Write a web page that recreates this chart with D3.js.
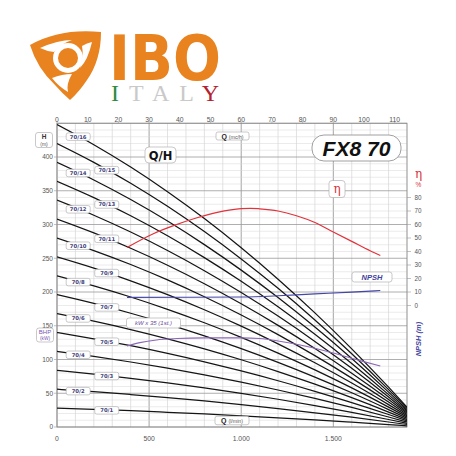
<!DOCTYPE html>
<html><head><meta charset="utf-8">
<script src="https://cdn.jsdelivr.net/npm/d3@7"></script>
<style>body{margin:0;background:#fff}svg{display:block}</style>
</head><body>
<svg id="c" width="456" height="456"></svg>
<script>
// ---------- data ----------
const flowLmin = [0, 200, 400, 600, 800, 1000, 1200, 1400, 1600, 1800, 1900];
const modelNames = ["70/1","70/2","70/3","70/4","70/5","70/6","70/7","70/8","70/9","70/10","70/11","70/12","70/13","70/14","70/15","70/16"];
const h701  = [28, 26.1, 24.1, 21.8, 19.3, 16.6, 13.7, 10.6, 7.2, 3.7, 1.8];
const h702  = [56, 52.3, 48.1, 43.6, 38.6, 33.2, 27.4, 21.1, 14.5, 7.4, 3.7];
const h703  = [84, 78.4, 72.2, 65.4, 57.9, 49.8, 41.1, 31.7, 21.7, 11.1, 5.5];
const h704  = [112, 104.6, 96.3, 87.2, 77.2, 66.4, 54.8, 42.3, 29.0, 14.8, 7.4];
const h705  = [140, 130.7, 120.4, 109.0, 96.5, 83.0, 68.5, 52.9, 36.2, 18.5, 9.2];
const h706  = [168, 156.8, 144.4, 130.7, 115.8, 99.6, 82.1, 63.4, 43.4, 22.1, 11.0];
const h707  = [196, 183.0, 168.5, 152.5, 135.1, 116.2, 95.8, 74.0, 50.7, 25.8, 12.9];
const h708  = [224, 209.1, 192.6, 174.3, 154.4, 132.8, 109.5, 84.6, 57.9, 29.5, 14.7];
const h709  = [252, 235.3, 216.6, 196.1, 173.7, 149.4, 123.2, 95.1, 65.2, 33.2, 16.6];
const h710  = [280, 261.4, 240.7, 217.9, 193.0, 166.0, 136.9, 105.7, 72.4, 36.9, 18.4];
const h711  = [308, 287.5, 264.8, 239.7, 212.3, 182.6, 150.6, 116.3, 79.6, 40.6, 20.2];
const h712  = [336, 313.7, 288.8, 261.5, 231.6, 199.2, 164.3, 126.8, 86.9, 44.3, 22.1];
const h713  = [364, 339.8, 312.9, 283.3, 250.9, 215.8, 178.0, 137.4, 94.1, 48.0, 23.9];
const h714  = [392, 366.0, 337.0, 305.1, 270.2, 232.4, 191.7, 148.0, 101.4, 51.7, 25.8];
const h715  = [420, 392.1, 361.1, 326.9, 289.5, 249.0, 205.4, 158.6, 108.6, 55.4, 27.6];
const h716  = [448, 418.2, 385.1, 348.6, 308.8, 265.6, 219.0, 169.1, 115.8, 59.0, 29.4];
const headSeries = [h701,h702,h703,h704,h705,h706,h707,h708,h709,h710,h711,h712,h713,h714,h715,h716];
const labelFlow = [270,115,270,115,270,115,270,115,270,115,270,115,270,115,270,115];

const effFlow = [380, 520, 640, 760, 870, 1000, 1050, 1100, 1200, 1300, 1400, 1500, 1600, 1700, 1755];
const effPct  = [43, 53, 59.5, 65, 69, 71.8, 72, 71.6, 70, 66.5, 61.5, 54.5, 47.5, 40.5, 37];

const npshFlow = [380, 700, 1000, 1200, 1400, 1600, 1755];
const npshM    = [6.0, 6.1, 6.3, 7.2, 8.6, 9.9, 11.1];

const bhpFlow  = [380, 450, 540, 650, 800, 1000, 1100, 1200, 1320, 1500, 1650, 1755];
const bhpX35   = [120, 125, 129, 131, 132, 132, 131, 127.5, 121.5, 109.6, 98, 90.4];

const hTicks = [0, 50, 100, 150, 200, 250, 300, 350, 400];
const topTicks = [0, 10, 20, 30, 40, 50, 60, 70, 80, 90, 100, 110];
const bottomTicks = [0, 500, 1000, 1500];
const bottomTickLabels = ["0", "500", "1.000", "1.500"];
const rightTicks = [0, 10, 20, 30, 40, 50, 60, 70, 80];

// ---------- scales ----------
const svg = d3.select("#c");
const x = d3.scaleLinear().domain([0, 1900]).range([57, 407]);
const xTop = d3.scaleLinear().domain([0, 114]).range([57, 407]);
const y = d3.scaleLinear().domain([0, 450]).range([427, 123.25]);
const yR = d3.scaleLinear().domain([0, 80]).range([y(180), y(340)]);

// ---------- logo ----------
const orange = "#e8831f";
const logo = svg.append("g");
logo.append("path").attr("fill", orange)
  .attr("d", "M30,45 Q60,28 101,32 Q101,60 87,80 Q79,92 70,100 Q62,93 55,85 Q37,68 30,45 Z");
logo.append("path").attr("fill", "#fff")
  .attr("d", "M40,48 Q58,40 72,40 Q60,44 54,52 Q46,51 40,48 Z");
logo.append("path").attr("fill", "#fff")
  .attr("d", "M92,42 Q88,60 80,68 Q84,56 82,46 Q87,43 92,42 Z");
logo.append("path").attr("fill", "#fff")
  .attr("d", "M52,78 Q62,74 72,74 Q66,84 68,92 Q58,86 52,78 Z");
logo.append("circle").attr("cx", 68).attr("cy", 58).attr("r", 15).attr("fill", "#fff");
logo.append("circle").attr("cx", 68).attr("cy", 58).attr("r", 10).attr("fill", orange);
logo.append("text").attr("x", 109).attr("y", 80)
  .attr("font-family", "DejaVu Sans").attr("font-weight", "bold").attr("font-size", 62)
  .attr("textLength", 112).attr("lengthAdjust", "spacingAndGlyphs")
  .attr("fill", orange).text("IBO");
const italy = logo.append("text").attr("x", 111).attr("y", 101)
  .attr("font-family", "Liberation Serif").attr("font-size", 24)
  .attr("textLength", 108).attr("lengthAdjust", "spacing");
[["I","#2e8b3e"],["T","#c9c9c9"],["A","#c9c9c9"],["L","#c9c9c9"],["Y","#b3202e"]].forEach(([c,col]) =>
  italy.append("tspan").attr("fill", col).text(c));

// ---------- grid ----------
const grid = svg.append("g");
d3.range(0, 1901, 100).forEach(q => {
  grid.append("line").attr("x1", x(q)).attr("x2", x(q)).attr("y1", y(450)).attr("y2", y(0))
    .attr("stroke", q % 500 === 0 ? "#9a9a9a" : "#cfcfcf").attr("stroke-width", q % 500 === 0 ? 0.9 : 0.6);
});
d3.range(0, 451, 10).forEach(h => {
  grid.append("line").attr("x1", x(0)).attr("x2", x(1900)).attr("y1", y(h)).attr("y2", y(h))
    .attr("stroke", h % 50 === 0 ? "#9a9a9a" : "#d6d6d6").attr("stroke-width", h % 50 === 0 ? 0.8 : 0.5);
});
svg.append("rect").attr("x", x(0)).attr("y", y(450)).attr("width", x(1900) - x(0)).attr("height", y(0) - y(450))
  .attr("fill", "none").attr("stroke", "#8a8a8a").attr("stroke-width", 0.8);

// ---------- axes labels ----------
const tickFont = "Liberation Sans";
const ax = svg.append("g").attr("font-family", tickFont).attr("fill", "#555");
hTicks.forEach(h => {
  ax.append("line").attr("x1", x(0) - 3).attr("x2", x(0)).attr("y1", y(h)).attr("y2", y(h)).attr("stroke", "#999").attr("stroke-width", 0.6);
  ax.append("text").attr("x", 53).attr("y", y(h) + 2.3).attr("text-anchor", "end").attr("font-size", 6.5).text(h);
});
topTicks.forEach(t => {
  ax.append("line").attr("x1", xTop(t)).attr("x2", xTop(t)).attr("y1", y(450) - 2).attr("y2", y(450)).attr("stroke", "#999").attr("stroke-width", 0.6);
  ax.append("text").attr("x", xTop(t)).attr("y", 121.5).attr("text-anchor", "middle").attr("font-size", 6.8).text(t);
});
bottomTicks.forEach((t, i) => {
  ax.append("text").attr("x", x(t)).attr("y", 441).attr("text-anchor", "middle").attr("font-size", 6.8).text(bottomTickLabels[i]);
});
rightTicks.forEach(t => {
  ax.append("line").attr("x1", x(1900)).attr("x2", x(1900) + 4).attr("y1", yR(t)).attr("y2", yR(t)).attr("stroke", "#999").attr("stroke-width", 0.6);
  ax.append("text").attr("x", 414.5).attr("y", yR(t) + 2.2).attr("font-size", 6.3).text(t);
});
svg.append("text").attr("x", 418.5).attr("y", 178).attr("text-anchor", "middle")
  .attr("font-family", "DejaVu Serif").attr("font-size", 12).attr("fill", "#d8323a").text("η");
svg.append("text").attr("x", 418.5).attr("y", 186.5).attr("text-anchor", "middle")
  .attr("font-family", tickFont).attr("font-size", 6.5).attr("fill", "#d8323a").text("%");
svg.append("text").attr("transform", "translate(421,339) rotate(-90)").attr("text-anchor", "middle")
  .attr("font-family", "Liberation Sans").attr("font-weight", "bold").attr("font-style", "italic")
  .attr("font-size", 7.5).attr("fill", "#4a4aa0").text("NPSH (m)");

// ---------- curves ----------
const clip = svg.append("clipPath").attr("id", "pc").append("rect")
  .attr("x", x(0)).attr("y", y(450)).attr("width", x(1900) - x(0)).attr("height", y(0) - y(450));
const plot = svg.append("g").attr("clip-path", "url(#pc)");
const lineGen = d3.line().x(d => x(d[0])).y(d => y(d[1])).curve(d3.curveMonotoneX);
headSeries.forEach(s => {
  plot.append("path").attr("d", lineGen(flowLmin.map((q, i) => [q, s[i]])))
    .attr("fill", "none").attr("stroke", "#151515").attr("stroke-width", 1.25);
});
plot.append("path").attr("d", d3.line().x(d => x(d[0])).y(d => yR(d[1])).curve(d3.curveMonotoneX)(effFlow.map((q, i) => [q, effPct[i]])))
  .attr("fill", "none").attr("stroke", "#e0333b").attr("stroke-width", 1.2);
plot.append("path").attr("d", d3.line().x(d => x(d[0])).y(d => yR(d[1])).curve(d3.curveMonotoneX)(npshFlow.map((q, i) => [q, npshM[i]])))
  .attr("fill", "none").attr("stroke", "#4545a5").attr("stroke-width", 1.1);
plot.append("path").attr("d", lineGen(bhpFlow.map((q, i) => [q, bhpX35[i]])))
  .attr("fill", "none").attr("stroke", "#8b68b8").attr("stroke-width", 1.1);

// ---------- labels ----------
function headAt(series, q) {
  const i = Math.min(d3.bisectRight(flowLmin, q) - 1, flowLmin.length - 2);
  const t = (q - flowLmin[i]) / (flowLmin[i + 1] - flowLmin[i]);
  return series[i] + t * (series[i + 1] - series[i]);
}
function box(cx, cy, w, h, rx) {
  return svg.append("rect").attr("x", cx - w / 2).attr("y", cy - h / 2).attr("width", w).attr("height", h)
    .attr("rx", rx).attr("fill", "#fff").attr("stroke", "#a5a5a5").attr("stroke-width", 0.6);
}
modelNames.forEach((name, i) => {
  const cx = x(labelFlow[i]), cy = y(headAt(headSeries[i], labelFlow[i])) + 0.5;
  box(cx, cy, 24, 7.5, 2);
  svg.append("text").attr("x", cx).attr("y", cy + 2).attr("text-anchor", "middle")
    .attr("font-family", "DejaVu Sans").attr("font-weight", "bold").attr("font-size", 5.3)
    .attr("fill", "#3d3d7a").text(name);
});

// Q/H box
box(160.5, 155, 31, 16, 4);
svg.append("text").attr("x", 160.5).attr("y", 159.5).attr("text-anchor", "middle")
  .attr("font-family", "DejaVu Sans").attr("font-weight", "bold").attr("font-size", 11.5).attr("fill", "#111").text("Q/H");
// FX8 70
box(356.5, 148, 89, 26, 12).attr("stroke", "#888").attr("stroke-width", 0.8);
svg.append("text").attr("x", 356.5).attr("y", 155.5).attr("text-anchor", "middle")
  .attr("font-family", "Liberation Sans").attr("font-weight", "bold").attr("font-style", "italic")
  .attr("font-size", 20).attr("textLength", 68).attr("lengthAdjust", "spacingAndGlyphs").attr("fill", "#111").text("FX8 70");
// eta box
box(337, 189, 16, 17, 3);
svg.append("text").attr("x", 337).attr("y", 193).attr("text-anchor", "middle")
  .attr("font-family", "DejaVu Serif").attr("font-size", 12).attr("fill", "#d8323a").text("η");
// NPSH box
box(372, 277, 40, 10, 2.5);
svg.append("text").attr("x", 372).attr("y", 279.6).attr("text-anchor", "middle")
  .attr("font-family", "Liberation Sans").attr("font-weight", "bold").attr("font-style", "italic")
  .attr("font-size", 7.5).attr("fill", "#4040a0").text("NPSH");
// kW box
box(153.5, 323, 54, 10, 2.5);
svg.append("text").attr("x", 153.5).attr("y", 325.3).attr("text-anchor", "middle")
  .attr("font-family", "Liberation Sans").attr("font-style", "italic")
  .attr("font-size", 6).attr("fill", "#6a4aa0").text("kW x 35 (1st.)");
// Q (mc/h)
box(232.5, 136, 33, 8, 2);
const tq = svg.append("text").attr("x", 232.5).attr("y", 138.5).attr("text-anchor", "middle").attr("font-family", "Liberation Sans");
tq.append("tspan").attr("font-weight", "bold").attr("font-size", 7).attr("fill", "#222").text("Q ");
tq.append("tspan").attr("font-size", 5.2).attr("fill", "#555").text("(mc/h)");
// Q (l/min)
box(232, 420.5, 34, 8.5, 2);
const tl = svg.append("text").attr("x", 232).attr("y", 423).attr("text-anchor", "middle").attr("font-family", "Liberation Sans");
tl.append("tspan").attr("font-weight", "bold").attr("font-size", 7).attr("fill", "#222").text("Q ");
tl.append("tspan").attr("font-size", 5.2).attr("fill", "#555").text("(l/min)");
// H (m)
box(44, 140, 17, 15, 2.5);
svg.append("text").attr("x", 44).attr("y", 139).attr("text-anchor", "middle").attr("font-family", "Liberation Sans")
  .attr("font-weight", "bold").attr("font-size", 6.5).attr("fill", "#333").text("H");
svg.append("text").attr("x", 44).attr("y", 145.5).attr("text-anchor", "middle").attr("font-family", "Liberation Sans")
  .attr("font-size", 5).attr("fill", "#555").text("(m)");
// BHP (kW)
box(45, 335, 17, 14, 2.5);
svg.append("text").attr("x", 45).attr("y", 334).attr("text-anchor", "middle").attr("font-family", "Liberation Sans")
  .attr("font-size", 6).attr("fill", "#7a55b0").text("BHP");
svg.append("text").attr("x", 45).attr("y", 340).attr("text-anchor", "middle").attr("font-family", "Liberation Sans")
  .attr("font-size", 4.8).attr("fill", "#7a55b0").text("(kW)");
</script>
</body></html>
